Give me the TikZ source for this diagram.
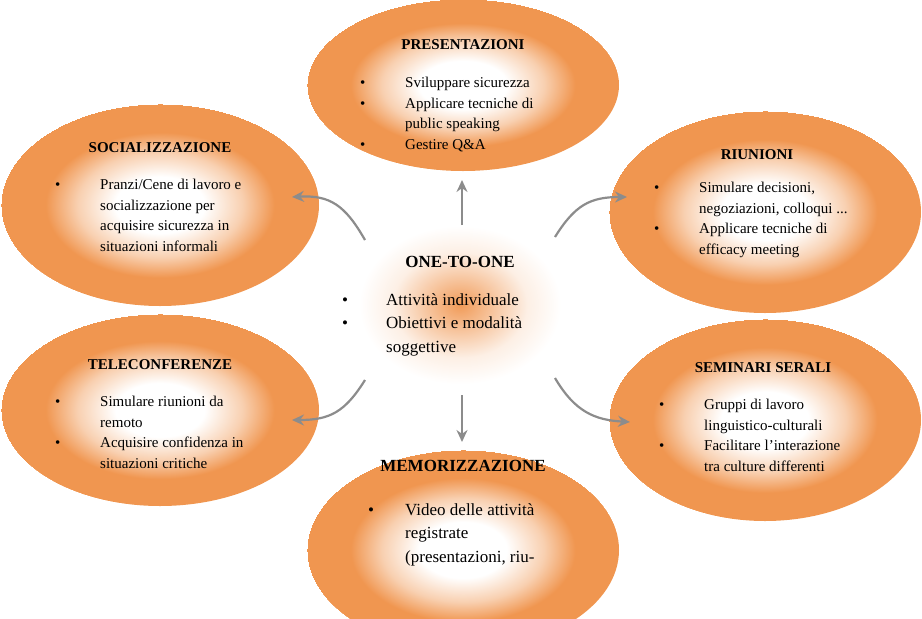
\documentclass[tikz,border=0pt]{standalone}
\usepackage{fontspec}
\setmainfont{Liberation Serif}
\usetikzlibrary{shapes.geometric,arrows.meta}
\definecolor{org}{RGB}{240,150,80}
\pgfdeclareradialshading{bubshade}{\pgfpoint{0cm}{0cm}}{color(0bp)=(white); color(7bp)=(white); color(13bp)=(org!45!white); color(18bp)=(org); color(25bp)=(org)}
\pgfdeclareradialshading{glowshade}{\pgfpoint{0cm}{0cm}}{color(0bp)=(org!95); color(6bp)=(org!55!white); color(12bp)=(org!15!white); color(18bp)=(white); color(25bp)=(white)}
\tikzset{
 bub/.style={ellipse,minimum width=#1,shading=bubshade,draw=none},
 ttl/.style={font=\fontsize{15}{17}\selectfont\bfseries},
 txt/.style={anchor=north west,inner sep=0pt,font=\fontsize{15}{20.5}\selectfont,align=left},
 arr/.style={-{Stealth[length=12pt,width=11pt]},draw=gray!90,line width=2.2pt}
}
\newcommand{\bl}[1]{\makebox[45pt][l]{\textbullet}#1}
\newcommand{\cn}[1]{\hspace*{45pt}#1}
\newcommand{\blc}[1]{\makebox[44pt][l]{\textbullet}#1}
\newcommand{\cnc}[1]{\hspace*{44pt}#1}
\begin{document}
\begin{tikzpicture}[x=1pt,y=-1pt]
\useasboundingbox (0,0) rectangle (922,619);
\begin{scope}
\clip (0,0) rectangle (922,619);
\node[bub=312pt,minimum height=172pt] (top) at (463,85) {};
\node[bub=318pt,minimum height=202pt] (tl) at (160,205) {};
\node[bub=312pt,minimum height=202pt] (tr) at (765,212) {};
\node[bub=318pt,minimum height=192pt] (bl) at (160,410) {};
\node[bub=312pt,minimum height=202pt] (br) at (765,420) {};
\node[bub=312pt,minimum height=200pt] (bot) at (463,550) {};
\node[ellipse,minimum width=280pt,minimum height=220pt,shading=glowshade,draw=none] (c) at (460,305) {};
\end{scope}
% titles
\node[ttl] (tt) at (463,45) {PRESENTAZIONI};
\node[ttl] (tlt) at (160,148) {SOCIALIZZAZIONE};
\node[ttl] (trt) at (757,155) {RIUNIONI};
\node[ttl,font=\fontsize{17}{19}\selectfont\bfseries] (ct) at (460,262) {ONE-TO-ONE};
\node[ttl] (blt) at (160,365) {TELECONFERENZE};
\node[ttl] (brt) at (763,368) {SEMINARI SERALI};
\node[ttl,font=\fontsize{17}{19}\selectfont\bfseries] (bt) at (463,466) {MEMORIZZAZIONE};
% texts
\node[txt] (tx1) at (360,77) {\bl{Sviluppare sicurezza}\\\bl{Applicare tecniche di}\\\cn{public speaking}\\\bl{Gestire Q\&A}};
\node[txt] (tx2) at (55,179) {\bl{Pranzi/Cene di lavoro e}\\\cn{socializzazione per}\\\cn{acquisire sicurezza in}\\\cn{situazioni informali}};
\node[txt] (tx3) at (654,182) {\bl{Simulare decisioni,}\\\cn{negoziazioni, colloqui ...}\\\bl{Applicare tecniche di}\\\cn{efficacy meeting}};
\node[txt,font=\fontsize{17}{23.5}\selectfont] (tx4) at (342,293) {\blc{Attività individuale}\\\blc{Obiettivi e modalità}\\\cnc{soggettive}};
\node[txt] (tx5) at (55,396) {\bl{Simulare riunioni da}\\\cn{remoto}\\\bl{Acquisire confidenza in}\\\cn{situazioni critiche}};
\node[txt] (tx6) at (659,399) {\bl{Gruppi di lavoro}\\\cn{linguistico-culturali}\\\bl{Facilitare l’interazione}\\\cn{tra culture differenti}};
\node[txt,font=\fontsize{17}{23.5}\selectfont] (tx7) at (368,503) {\makebox[37pt][l]{\textbullet}Video delle attività\\\hspace*{37pt}registrate\\\hspace*{37pt}(presentazioni, riu-};
% arrows
\coordinate (a1) at (462,225); \coordinate (a1e) at (462,180);
\coordinate (a2) at (462,395); \coordinate (a2e) at (462,442);
\coordinate (a3) at (365,240); \coordinate (a3e) at (292,197);
\coordinate (a4) at (555,237); \coordinate (a4e) at (627,197);
\coordinate (a5) at (365,380); \coordinate (a5e) at (292,420);
\coordinate (a6) at (555,378); \coordinate (a6e) at (630,422);
\draw[arr] (a1) -- (a1e);
\draw[arr] (a2) -- (a2e);
\draw[arr] (a3) .. controls (345,205) and (330,195) .. (a3e);
\draw[arr] (a4) .. controls (575,205) and (590,197) .. (a4e);
\draw[arr] (a5) .. controls (345,412) and (330,420) .. (a5e);
\draw[arr] (a6) .. controls (575,412) and (595,420) .. (a6e);
\end{tikzpicture}
\end{document}
